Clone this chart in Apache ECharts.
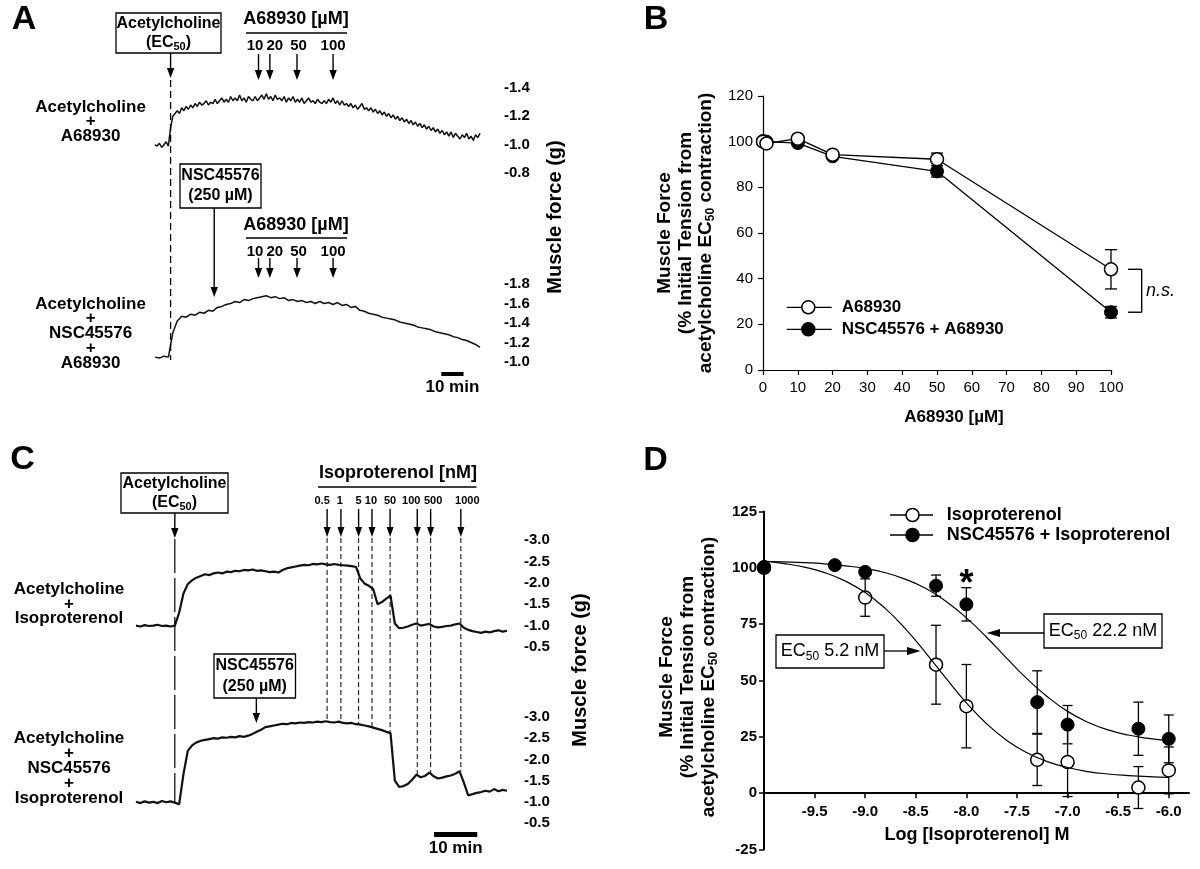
<!DOCTYPE html>
<html><head><meta charset="utf-8">
<script src="https://cdn.jsdelivr.net/npm/echarts@6/dist/echarts.min.js"></script>
<style>html,body{margin:0;padding:0;background:#fff}#c{width:1200px;height:869px}</style>
</head><body><div id="c"></div>
<script>
const FONT = "'Liberation Sans', Arial, Helvetica, sans-serif";

// ---------- Panel A : force traces (g), one value per minute / per 2 minutes ----------
const aTopForce = [-1.00,-0.99,-1.01,-0.98,-1.00,-1.02,-0.99,-1.12,-1.20,-1.22,
-1.24,-1.22,-1.26,-1.24,-1.27,-1.25,-1.28,-1.26,-1.29,-1.27,
-1.30,-1.28,-1.29,-1.31,-1.28,-1.30,-1.29,-1.32,-1.29,-1.31,
-1.33,-1.30,-1.32,-1.30,-1.34,-1.31,-1.33,-1.31,-1.35,-1.31,
-1.33,-1.30,-1.34,-1.32,-1.31,-1.34,-1.31,-1.33,-1.35,-1.32,
-1.36,-1.32,-1.34,-1.31,-1.35,-1.32,-1.33,-1.31,-1.34,-1.30,
-1.33,-1.31,-1.34,-1.30,-1.32,-1.30,-1.33,-1.29,-1.31,-1.33,
-1.30,-1.31,-1.29,-1.32,-1.30,-1.29,-1.31,-1.29,-1.32,-1.30,
-1.33,-1.29,-1.31,-1.28,-1.31,-1.28,-1.29,-1.27,-1.29,-1.26,
-1.28,-1.25,-1.27,-1.29,-1.25,-1.26,-1.24,-1.26,-1.23,-1.25,
-1.22,-1.24,-1.21,-1.23,-1.20,-1.22,-1.19,-1.21,-1.18,-1.20,
-1.17,-1.19,-1.16,-1.18,-1.15,-1.17,-1.14,-1.16,-1.13,-1.15,
-1.12,-1.14,-1.11,-1.13,-1.10,-1.12,-1.09,-1.11,-1.08,-1.10,
-1.07,-1.09,-1.06,-1.09,-1.05,-1.08,-1.06,-1.04,-1.07,-1.05,
-1.08,-1.04,-1.06,-1.03,-1.07,-1.05,-1.08];
const aTopStepMin = 1;
const aBotForce = [-1.05,-1.04,-1.06,-1.05,-1.30,-1.42,-1.47,-1.46,-1.49,-1.48,
-1.51,-1.50,-1.53,-1.52,-1.56,-1.57,-1.59,-1.60,-1.62,-1.61,
-1.64,-1.63,-1.65,-1.66,-1.67,-1.68,-1.66,-1.67,-1.65,-1.66,
-1.63,-1.64,-1.62,-1.63,-1.61,-1.62,-1.60,-1.62,-1.60,-1.61,
-1.59,-1.61,-1.58,-1.59,-1.56,-1.57,-1.53,-1.52,-1.50,-1.49,
-1.48,-1.46,-1.45,-1.44,-1.43,-1.41,-1.40,-1.39,-1.38,-1.36,
-1.35,-1.34,-1.33,-1.31,-1.30,-1.29,-1.28,-1.26,-1.25,-1.23,
-1.22,-1.20,-1.18,-1.15];
const aBotStepMin = 2;
const aAchTime = 7.0;          // min
const aNscTime = 26.6;         // min
const aDoseTimes = [46.5, 51.6, 63.8, 80.0];
const aDoseLabels = ['10', '20', '50', '100'];
const aYTop = [-1.4, -0.8];    // axis range, top trace
const aYBot = [-1.8, -1.0];    // axis range, bottom trace

// ---------- Panel B ----------
const bConc = [0, 1, 10, 20, 50, 100];
const bA68930 = [100.0, 99.2, 101.3, 94.3, 92.3, 44.1];
const bA68930Sem = [0, 0, 0, 0, 2.7, 8.6];
const bNscA68930 = [100.3, 100.0, 99.4, 93.6, 87.0, 25.3];
const bNscA68930Sem = [0, 0, 0, 0, 2.5, 2.5];

// ---------- Panel C : force traces (g), one value per minute ----------
const cTopForce = [-1.00,-0.98,-1.01,-0.99,-1.00,-1.02,-0.99,-1.00,-0.98,-1.00,
-1.30,-1.75,-1.97,-2.06,-2.12,-2.16,-2.20,-2.18,-2.22,-2.24,
-2.22,-2.26,-2.25,-2.28,-2.27,-2.30,-2.29,-2.31,-2.28,-2.29,
-2.27,-2.25,-2.26,-2.24,-2.30,-2.34,-2.36,-2.38,-2.40,-2.42,
-2.41,-2.44,-2.43,-2.45,-2.43,-2.42,-2.44,-2.42,-2.41,-2.40,
-2.39,-2.37,-2.10,-1.98,-1.93,-1.85,-1.50,-1.55,-1.63,-1.70,
-1.05,-0.94,-0.95,-0.98,-1.02,-1.05,-1.00,-1.02,-1.04,-0.98,
-0.96,-0.97,-0.99,-1.00,-1.03,-1.05,-0.95,-0.90,-0.87,-0.85,
-0.83,-0.86,-0.84,-0.87,-0.89,-0.86,-0.88];
const cBotForce = [-1.00,-0.97,-1.01,-0.98,-1.00,-0.97,-1.02,-0.99,-1.01,-0.98,
-0.94,-1.65,-2.20,-2.33,-2.40,-2.44,-2.46,-2.48,-2.50,-2.49,
-2.52,-2.51,-2.53,-2.52,-2.55,-2.53,-2.56,-2.60,-2.65,-2.70,
-2.76,-2.78,-2.80,-2.82,-2.84,-2.83,-2.86,-2.85,-2.87,-2.86,
-2.88,-2.87,-2.89,-2.88,-2.90,-2.88,-2.87,-2.89,-2.86,-2.85,
-2.86,-2.83,-2.82,-2.80,-2.78,-2.75,-2.72,-2.69,-2.65,-2.62,
-1.50,-1.35,-1.37,-1.42,-1.52,-1.64,-1.58,-1.61,-1.69,-1.60,
-1.55,-1.57,-1.60,-1.62,-1.66,-1.72,-1.45,-1.15,-1.18,-1.21,
-1.23,-1.26,-1.24,-1.30,-1.25,-1.28,-1.26];
const cStepMin = 1;
const cAchTime = 9.0;
const cNscTime = 27.9;
const cDoseTimes = [44.3, 47.5, 51.6, 54.7, 58.9, 65.2, 68.3, 75.3];
const cDoseLabels = ['0.5', '1', '5', '10', '50', '100', '500', '1000'];

// ---------- Panel D ----------
const dIsoLog = [-10, -9.0, -8.3, -8.0, -7.3, -7.0, -6.3, -6.0];
const dIso = [100.0, 86.8, 57.0, 38.6, 14.8, 13.8, 2.5, 10.1];
const dIsoSem = [0, 8.3, 17.5, 18.5, 11.4, 15.3, 9.3, 10.4];
const dNscLog = [-10, -9.3, -9.0, -8.3, -8.0, -7.3, -7.0, -6.3, -6.0];
const dNsc = [100.4, 101.2, 98.2, 92.1, 83.8, 40.4, 30.4, 28.6, 24.1];
const dNscSem = [0, 0, 0, 4.7, 7.4, 13.9, 8.5, 11.8, 10.6];
const dFitLog = [-10.0,-9.8,-9.6,-9.4,-9.2,-9.0,-8.8,-8.6,-8.4,-8.2,-8.0,-7.8,-7.6,-7.4,-7.2,-7.0,-6.8,-6.6,-6.4,-6.2,-6.0];
const dIsoFit = [103.0,101.9,100.3,97.9,94.2,89.0,81.9,72.8,62.2,50.9,40.1,30.8,23.4,17.9,14.0,11.4,9.6,8.5,7.8,7.3,7.0];
const dNscFit = [102.8,102.6,102.3,101.8,100.9,99.7,97.8,94.9,90.8,85.1,77.8,69.2,59.8,50.7,42.8,36.3,31.5,28.1,25.8,24.3,23.3];
const dXTicks = [-9.5, -9.0, -8.5, -8.0, -7.5, -7.0, -6.5, -6.0];

// ---------- helpers ----------
const traceXY = (arr, step) => arr.map((v, i) => [i * step, v]);
const pairs = (xs, ys) => xs.map((x, i) => [x, ys[i]]);
const triples = (xs, ys, es) => xs.map((x, i) => [x, ys[i], es[i]]);

function traceYAxis(grid, range, margin) {
  return {
    type: 'value', gridIndex: grid, position: 'right', inverse: true,
    min: range[0], max: range[1], interval: grid < 2 ? 0.2 : 0.5,
    axisLine: {show: false}, axisTick: {show: false}, splitLine: {show: false},
    axisLabel: {show: true, margin: margin, fontFamily: FONT, fontSize: 15, fontWeight: 'bold', color: '#000',
      formatter: v => v.toFixed(1)}
  };
}
function hiddenX(grid, max) {
  return {type: 'value', gridIndex: grid, min: 0, max: max, show: false, splitLine: {show: false}};
}
function traceSeries(data, xi, lw) {
  return {type: 'line', xAxisIndex: xi, yAxisIndex: xi, data: data, symbol: 'none', silent: true,
    lineStyle: {color: '#111', width: lw}, emphasis: {disabled: true}, animation: false, clip: false};
}
function errRender(capHalf, lw) {
  return function (params, api) {
    const x = api.value(0), y = api.value(1), e = api.value(2);
    if (!e) return null;
    const p1 = api.coord([x, y + e]), p2 = api.coord([x, y - e]);
    const st = {stroke: '#000', lineWidth: lw};
    return {type: 'group', children: [
      {type: 'line', shape: {x1: p1[0], y1: p1[1], x2: p2[0], y2: p2[1]}, style: st},
      {type: 'line', shape: {x1: p1[0] - capHalf, y1: p1[1], x2: p1[0] + capHalf, y2: p1[1]}, style: st},
      {type: 'line', shape: {x1: p2[0] - capHalf, y1: p2[1], x2: p2[0] + capHalf, y2: p2[1]}, style: st}
    ]};
  };
}
const gridBase = {show: false, containLabel: false, outerBoundsMode: 'none'};
const axisBlack = {color: '#000', width: 1.2};

const option = {
  backgroundColor: '#fff',
  animation: false,
  grid: [
    Object.assign({left: 155, top: 88, width: 325, height: 85}, gridBase),
    Object.assign({left: 155, top: 284, width: 325, height: 78}, gridBase),
    Object.assign({left: 763, top: 96, width: 348, height: 274}, gridBase),
    Object.assign({left: 136, top: 540, width: 371, height: 107}, gridBase),
    Object.assign({left: 136, top: 717, width: 371, height: 106}, gridBase),
    Object.assign({left: 764, top: 511.5, width: 425, height: 338}, gridBase)
  ],
  xAxis: [
    hiddenX(0, 146), hiddenX(1, 146),
    {type: 'value', gridIndex: 2, min: 0, max: 100, interval: 10,
      axisLine: {show: true, lineStyle: axisBlack}, axisTick: {show: true, length: 5, lineStyle: axisBlack},
      splitLine: {show: false},
      axisLabel: {margin: 10, fontFamily: FONT, fontSize: 15, color: '#000'}},
    hiddenX(3, 86), hiddenX(4, 86),
    {type: 'value', gridIndex: 5, min: -10, max: -5.8, interval: 0.5,
      axisLine: {show: true, onZero: true, lineStyle: {color: '#000', width: 2}},
      axisTick: {show: true, length: 5, customValues: dXTicks, lineStyle: {color: '#000', width: 1.5}},
      splitLine: {show: false},
      axisLabel: {show: false}}
  ],
  yAxis: [
    traceYAxis(0, aYTop, 24), traceYAxis(1, aYBot, 24),
    {type: 'value', gridIndex: 2, min: 0, max: 120, interval: 20,
      axisLine: {show: true, lineStyle: axisBlack}, axisTick: {show: true, length: 5, lineStyle: axisBlack},
      splitLine: {show: false},
      axisLabel: {margin: 10, fontFamily: FONT, fontSize: 15, color: '#000'}},
    traceYAxis(3, [-3.0, -0.5], 17), traceYAxis(4, [-3.0, -0.5], 17),
    {type: 'value', gridIndex: 5, min: -25, max: 125, interval: 25,
      axisLine: {show: true, lineStyle: {color: '#000', width: 2}},
      axisTick: {show: true, length: 5, lineStyle: {color: '#000', width: 1.5}},
      splitLine: {show: false},
      axisLabel: {margin: 7, fontFamily: FONT, fontSize: 15, fontWeight: 'bold', color: '#000'}}
  ],
  series: [
    traceSeries(traceXY(aTopForce, aTopStepMin), 0, 1.5),
    traceSeries(traceXY(aBotForce, aBotStepMin), 1, 1.5),
    traceSeries(traceXY(cTopForce, cStepMin), 3, 2.2),
    traceSeries(traceXY(cBotForce, cStepMin), 4, 2.2),
    // B error bars
    {type: 'custom', xAxisIndex: 2, yAxisIndex: 2, silent: true, clip: false,
      data: triples(bConc, bA68930, bA68930Sem).concat(triples(bConc, bNscA68930, bNscA68930Sem)),
      encode: {x: 0, y: 1}, renderItem: errRender(6, 1.3)},
    {name: 'NSC45576 + A68930', type: 'line', xAxisIndex: 2, yAxisIndex: 2, data: pairs(bConc, bNscA68930),
      symbol: 'circle', symbolSize: 13, silent: true, emphasis: {disabled: true},
      lineStyle: {color: '#000', width: 1.3}, itemStyle: {color: '#000', borderColor: '#000', borderWidth: 1}},
    {name: 'A68930', type: 'line', xAxisIndex: 2, yAxisIndex: 2, data: pairs(bConc, bA68930),
      symbol: 'circle', symbolSize: 13, silent: true, emphasis: {disabled: true},
      lineStyle: {color: '#000', width: 1.3}, itemStyle: {color: '#fff', borderColor: '#000', borderWidth: 1.5}},
    // D error bars
    {type: 'custom', xAxisIndex: 5, yAxisIndex: 5, silent: true, clip: false,
      data: triples(dIsoLog, dIso, dIsoSem).concat(triples(dNscLog, dNsc, dNscSem)),
      encode: {x: 0, y: 1}, renderItem: errRender(5, 1.3)},
    {type: 'line', xAxisIndex: 5, yAxisIndex: 5, data: pairs(dFitLog, dIsoFit), smooth: true, symbol: 'none',
      silent: true, lineStyle: {color: '#000', width: 1.2}},
    {type: 'line', xAxisIndex: 5, yAxisIndex: 5, data: pairs(dFitLog, dNscFit), smooth: true, symbol: 'none',
      silent: true, lineStyle: {color: '#000', width: 1.2}},
    {name: 'Isoproterenol', type: 'scatter', xAxisIndex: 5, yAxisIndex: 5, data: pairs(dIsoLog, dIso),
      symbol: 'circle', symbolSize: 13, silent: true, emphasis: {disabled: true},
      itemStyle: {color: '#fff', borderColor: '#000', borderWidth: 1.5, opacity: 1}},
    {name: 'NSC45576 + Isoproterenol', type: 'scatter', xAxisIndex: 5, yAxisIndex: 5, data: pairs(dNscLog, dNsc),
      symbol: 'circle', symbolSize: 13, silent: true, emphasis: {disabled: true},
      itemStyle: {color: '#000', borderColor: '#000', borderWidth: 1, opacity: 1}}
  ]
};

const chart = echarts.init(document.getElementById('c'), null, {renderer: 'canvas'});
chart.setOption(option);

// ---------- annotations ----------
const P = (g, x, y) => chart.convertToPixel({gridIndex: g}, [x, y]);
const G = [];
function txt(x, y, text, size, o) {
  o = o || {};
  const style = {text: text, x: 0, y: 0, fill: '#000', fontFamily: FONT, fontSize: size,
    fontWeight: o.weight || 'bold', fontStyle: o.fstyle || 'normal',
    align: o.align || 'center', verticalAlign: 'middle'};
  if (o.lh) style.lineHeight = o.lh;
  if (o.rich) style.rich = o.rich;
  G.push({type: 'text', x: x, y: y, rotation: o.rot || 0, z: 100, silent: true, style: style});
}
function seg(x1, y1, x2, y2, w, dash) {
  G.push({type: 'line', z: 99, silent: true, shape: {x1: x1, y1: y1, x2: x2, y2: y2},
    style: {stroke: '#000', lineWidth: w || 1.3, lineDash: dash || null}});
}
function tri(points) {
  G.push({type: 'polygon', z: 99, silent: true, shape: {points: points}, style: {fill: '#000'}});
}
function arrowDown(x, y1, y2, head, hw, w) {
  seg(x, y1, x, y2 - head + 1, w || 1.4);
  tri([[x - hw, y2 - head], [x + hw, y2 - head], [x, y2]]);
}
function box(x, y, w, h) {
  G.push({type: 'rect', z: 98, silent: true, shape: {x: x, y: y, width: w, height: h},
    style: {fill: '#fff', stroke: '#000', lineWidth: 1.3}});
}
function richB(size, sub, lh) {
  return {
    b: {fontFamily: FONT, fontSize: size, fontWeight: 'bold', lineHeight: lh, fill: '#000'},
    s: {fontFamily: FONT, fontSize: sub, fontWeight: 'bold', lineHeight: Math.round(sub * 0.7), verticalAlign: 'bottom', fill: '#000'}
  };
}
function richR(size, sub, lh) {
  return {
    r: {fontFamily: FONT, fontSize: size, fontWeight: 'normal', lineHeight: lh, fill: '#000'},
    s: {fontFamily: FONT, fontSize: sub, fontWeight: 'normal', lineHeight: Math.round(sub * 0.7), verticalAlign: 'bottom', fill: '#000'}
  };
}
const MU = '\u00B5';
const ecBox = '{b|Acetylcholine}\n{b|(EC}{s|50}{b|)}';
const nscBox = '{b|NSC45576}\n{b|(250 ' + MU + 'M)}';
const yTitle = '{b|Muscle Force}\n{b|(% Initial Tension from}\n{b|acetylcholine EC}{s|50}{b| contraction)}';

// Panel letters
txt(24, 20, 'A', 34); txt(656, 20, 'B', 34); txt(22.5, 460, 'C', 34); txt(655.5, 460.5, 'D', 34);

// ----- Panel A -----
box(116, 13, 105, 40);
txt(168.5, 33, ecBox, 16, {rich: richB(16, 11, 19)});
const aAchX = P(0, aAchTime, -1.0)[0];
arrowDown(aAchX, 53, 78, 10, 3.7);
seg(aAchX, 80, aAchX, 360, 1.3, [7, 4]);
[[19.5, 33, 46, 54, 80], [225, 238, 251.7, 258, 278]].forEach(r => {
  txt(296, r[0], 'A68930 [' + MU + 'M]', 18);
  seg(246, r[1], 347, r[1], 1.6);
  const aDx = [-3.5, 5, 1.5, 0];
  aDoseTimes.forEach((t, i) => {
    const x = P(0, t, -1.0)[0];
    txt(x + aDx[i], r[2], aDoseLabels[i], 15);
    arrowDown(x, r[3], r[4], 10, 3.7);
  });
});
box(180, 164, 81, 44);
txt(220.5, 186, nscBox, 16, {rich: richB(16, 11, 20)});
const aNscX = P(1, aNscTime, -1.5)[0];
arrowDown(aNscX, 208, 297, 10, 3.7);
txt(90.6, 121.5, 'Acetylcholine\n+\nA68930', 17, {lh: 14.5});
txt(90.6, 333.5, 'Acetylcholine\n+\nNSC45576\n+\nA68930', 17, {lh: 14.75});
txt(555, 217, 'Muscle force (g)', 20, {rot: Math.PI / 2});
{
  const x1 = P(1, 128.6, -1.0)[0], x2 = P(1, 138.6, -1.0)[0];
  G.push({type: 'rect', z: 99, silent: true, shape: {x: x1, y: 372, width: x2 - x1, height: 4}, style: {fill: '#000'}});
  txt((x1 + x2) / 2, 387, '10 min', 17);
}

// ----- Panel B -----
txt(685.5, 233, yTitle, 19, {rot: Math.PI / 2, rich: richB(19, 12, 20.7)});
txt(954, 417, 'A68930 [' + MU + 'M]', 17);
[[307.3, '#fff', 'A68930'], [329.3, '#000', 'NSC45576 + A68930']].forEach(r => {
  seg(786.7, r[0], 831.7, r[0], 1.3);
  G.push({type: 'circle', z: 100, silent: true, shape: {cx: 808.3, cy: r[0], r: 6.5},
    style: {fill: r[1], stroke: '#000', lineWidth: 1.5}});
  txt(841.7, r[0], r[2], 17, {align: 'left'});
});
{
  const y1 = P(2, 100, bA68930[5])[1], y2 = P(2, 100, bNscA68930[5])[1];
  const xb = 1141.7, x0 = 1128;
  seg(x0, y1, xb, y1, 1.4); seg(xb, y1, xb, y2, 1.4); seg(x0, y2, xb, y2, 1.4);
  txt(1146, (y1 + y2) / 2, 'n.s.', 18, {align: 'left', weight: 'normal', fstyle: 'italic'});
}

// ----- Panel C -----
box(121, 473, 107, 40);
txt(174.5, 493, ecBox, 16, {rich: richB(16, 11, 19)});
const cAchX = P(3, cAchTime, -1.0)[0];
arrowDown(cAchX, 513, 538, 10, 3.7);
seg(cAchX, 539, cAchX, 802, 1.2, [34, 5]);
txt(398, 473, 'Isoproterenol [nM]', 18);
seg(318, 487, 476.5, 487, 1.6);
const cDx = [-5, -1, 0, -1, 0, -6, 2.5, 6.5];
cDoseTimes.forEach((t, i) => {
  const x = P(3, t, -1.0)[0];
  txt(x + cDx[i], 501, cDoseLabels[i], 11);
  arrowDown(x, 509, 537, 10, 3.5);
  const yEnd = P(4, t, cBotForce[Math.round(t / cStepMin)])[1];
  seg(x, 538, x, yEnd, 1, [5, 3]);
});
box(214, 654, 81.5, 44);
txt(254.7, 676, nscBox, 16, {rich: richB(16, 11, 20.6)});
const cNscX = P(4, cNscTime, -2.0)[0];
arrowDown(cNscX, 698, 723, 10, 3.7);
txt(69, 604.3, 'Acetylcholine\n+\nIsoproterenol', 17, {lh: 14.5});
txt(69, 768, 'Acetylcholine\n+\nNSC45576\n+\nIsoproterenol', 17, {lh: 15});
txt(580, 670, 'Muscle force (g)', 20, {rot: Math.PI / 2});
{
  const x1 = P(4, 69.1, -1.0)[0], x2 = P(4, 79.1, -1.0)[0];
  G.push({type: 'rect', z: 99, silent: true, shape: {x: x1, y: 832, width: x2 - x1, height: 5}, style: {fill: '#000'}});
  txt((x1 + x2) / 2, 848, '10 min', 17);
}

// ----- Panel D -----
dXTicks.forEach(v => {
  const p = P(5, v, 0);
  txt(p[0], p[1] + 18.5, v.toFixed(1), 15);
});
txt(688, 677, yTitle, 19, {rot: Math.PI / 2, rich: richB(19, 12, 21)});
txt(977, 835, 'Log [Isoproterenol] M', 18);
[[515, '#fff', 'Isoproterenol'], [535, '#000', 'NSC45576 + Isoproterenol']].forEach(r => {
  seg(890, r[0], 933, r[0], 1.3);
  G.push({type: 'circle', z: 100, silent: true, shape: {cx: 912.5, cy: r[0], r: 6.5},
    style: {fill: r[1], stroke: '#000', lineWidth: 1.5}});
  txt(946.7, r[0], r[2], 18, {align: 'left'});
});
box(776, 635, 108, 33);
txt(830, 651.5, '{r|EC}{s|50}{r| 5.2 nM}', 18, {weight: 'normal', rich: richR(18, 12, 22)});
seg(884, 651, 909, 651, 1.3);
tri([[907, 647], [907, 655], [920.7, 651]]);
box(1044, 614, 118, 34);
txt(1103, 631, '{r|EC}{s|50}{r| 22.2 nM}', 18, {weight: 'normal', rich: richR(18, 12, 22)});
seg(1044, 633, 998, 633, 1.3);
tri([[1000, 629], [1000, 637], [986.7, 633]]);
txt(P(5, -8.0, 0)[0], 585, '*', 36);

chart.setOption({graphic: {elements: G}});
</script></body></html>
